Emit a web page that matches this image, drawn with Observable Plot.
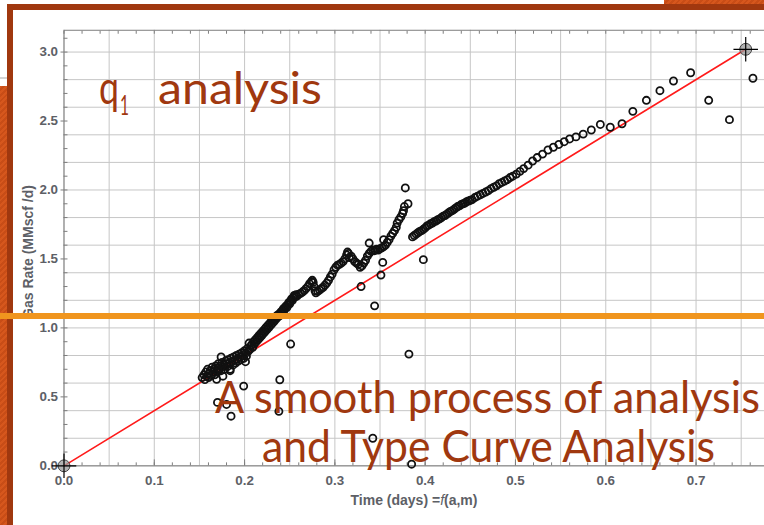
<!DOCTYPE html>
<html>
<head>
<meta charset="utf-8">
<script src="https://cdn.jsdelivr.net/npm/d3@7"></script>
<script src="https://cdn.jsdelivr.net/npm/@observablehq/plot@0.6"></script>
<style>
  html, body { margin: 0; padding: 0; background: #fff; }
  #slide { position: relative; width: 764px; height: 525px; overflow: hidden; background: #fff; }
  #chart { position: absolute; left: 0; top: 0; }
  .abs { position: absolute; }
  .hatch { background: repeating-linear-gradient(135deg, #d6571d 0 2px, #c84d17 2px 4px); }
  .brown { background: #a0380f; }
  .axis-label { font-family: "Liberation Sans", Arial, sans-serif; font-weight: bold; font-size: 14px; color: #5d6066; white-space: nowrap; }
</style>
</head>
<body>
<div id="slide">
  <div id="chart"></div>
  <div class="abs" style="left:0;top:77px;width:7px;height:2px;background:#d4d4d4"></div>
  <div class="abs hatch" style="left:0;top:86px;width:7px;height:439px"></div>
  <div class="abs hatch" style="left:664px;top:0;width:100px;height:4px"></div>
  <div class="abs brown" style="left:7px;top:4px;width:6px;height:521px"></div>
  <div class="abs brown" style="left:7px;top:4px;width:757px;height:6px"></div>
  <div class="abs axis-label" id="ylab" style="left:28px;top:252px;transform:translate(-50%,-50%) rotate(-90deg)">Gas Rate (MMscf /d)</div>
  <div class="abs axis-label" id="xlab" style="left:414px;top:500px;transform:translate(-50%,-50%)">Time (days) =<i style="font-weight:normal">f</i>(a,m)</div>
  <svg class="abs" id="headline" width="764" height="525" style="left:0;top:0" font-family="Lato, 'Open Sans', sans-serif" fill="#a0380f">
    <text x="99" y="104" font-size="46" textLength="20" lengthAdjust="spacingAndGlyphs">q</text>
    <text x="120" y="115" font-size="26" textLength="9" lengthAdjust="spacingAndGlyphs">1</text>
    <text x="158" y="104" font-size="45" textLength="164" lengthAdjust="spacingAndGlyphs">analysis</text>
    <text x="215" y="413" font-size="45" textLength="545" lengthAdjust="spacingAndGlyphs">A smooth process of analysis</text>
    <text x="262" y="462" font-size="45" textLength="453" lengthAdjust="spacingAndGlyphs">and Type Curve Analysis</text>
  </svg>
  <div class="abs" style="left:0;top:313px;width:764px;height:6px;background:#f0951e"></div>
</div>
<script>
// Measured gas rate (MMscf/d) against time function f(a,m) (days)
const timeDays = [
  // early dense branch
  0.153,0.155,0.156,0.157,0.158,0.159,0.160,0.161,0.162,0.163,0.164,0.165,0.166,0.167,0.168,0.169,
  0.170,0.171,0.172,0.173,0.174,0.175,0.176,0.177,0.178,0.179,0.180,0.181,0.182,0.183,0.184,0.185,
  0.186,0.187,0.188,0.189,0.190,0.191,0.192,0.193,0.194,0.195,0.196,0.197,0.198,0.199,0.200,0.201,
  0.202,0.203,0.204,0.205,0.206,0.207,0.208,0.209,0.210,0.211,0.212,0.213,0.214,0.215,0.216,0.217,
  0.218,0.219,0.220,0.221,0.222,0.223,0.224,0.225,0.226,0.227,0.228,0.229,0.230,0.231,0.232,0.233,
  0.234,0.235,0.236,0.237,0.238,0.239,0.240,0.241,0.242,0.243,0.244,0.245,0.246,0.247,0.248,0.249,
  0.250,0.251,0.252,0.253,0.254,0.255,0.256,0.257,0.258,0.260,0.262,0.264,0.266,0.268,0.270,0.272,
  0.274,0.275,0.276,0.277,0.278,0.279,0.281,0.283,0.285,0.287,0.289,0.291,0.293,0.295,0.297,0.299,
  0.301,0.303,0.305,0.307,0.309,0.311,0.313,0.314,0.315,0.316,0.318,0.320,0.322,0.324,0.326,0.328,
  0.330,0.332,0.334,0.336,0.338,0.340,0.342,0.344,0.346,0.348,0.350,0.352,0.354,0.356,0.358,0.360,
  0.362,0.364,0.366,0.368,0.369,0.371,0.373,0.375,0.376,0.377,0.381,0.378,
  // later branch
  0.386,0.388,0.390,0.392,0.394,0.396,0.398,0.400,0.402,0.404,0.406,0.408,0.410,0.412,0.414,0.416,
  0.418,0.420,0.422,0.424,0.426,0.428,0.430,0.432,0.434,0.436,0.438,0.440,0.442,0.444,0.446,0.448,
  0.450,0.452,0.455,0.458,0.461,0.464,0.467,0.470,0.473,0.476,0.479,0.482,0.485,0.488,0.491,0.494,
  0.497,0.501,0.505,0.509,0.514,0.519,0.524,0.530,0.536,0.542,0.548,0.554,0.560,0.567,0.575,0.584,
  0.594,0.605,0.618,0.630,0.645,0.660,0.675,0.694,0.714,0.737,0.763,
  // scattered readings
  0.174,0.201,0.251,0.239,0.199,0.170,0.180,0.185,0.238,0.342,0.385,0.382,0.329,0.351,0.353,0.344,
  0.338,0.354,0.398,0.169,0.176,0.184
];
const gasRate = [
  0.640,0.660,0.625,0.680,0.650,0.700,0.640,0.670,0.690,0.655,0.715,0.680,0.700,0.660,0.725,0.690,
  0.710,0.740,0.700,0.725,0.690,0.750,0.720,0.735,0.700,0.760,0.740,0.720,0.770,0.745,0.700,0.780,
  0.755,0.730,0.790,0.765,0.745,0.800,0.775,0.760,0.810,0.790,0.770,0.820,0.800,0.780,0.835,0.815,
  0.795,0.850,0.830,0.890,0.845,0.870,0.880,0.860,0.900,0.885,0.915,0.900,0.930,0.915,0.945,0.930,
  0.960,0.945,0.975,0.960,0.990,0.975,1.005,0.990,1.020,1.005,1.035,1.020,1.050,1.035,1.060,1.050,
  1.075,1.065,1.090,1.080,1.100,1.090,1.115,1.105,1.125,1.140,1.130,1.150,1.160,1.150,1.170,1.185,
  1.175,1.195,1.210,1.200,1.220,1.235,1.225,1.240,1.230,1.245,1.250,1.260,1.270,1.285,1.300,1.320,
  1.335,1.345,1.330,1.300,1.270,1.255,1.265,1.275,1.285,1.295,1.310,1.325,1.345,1.370,1.390,1.420,
  1.440,1.455,1.460,1.470,1.480,1.500,1.530,1.550,1.540,1.510,1.520,1.500,1.480,1.470,1.460,1.440,
  1.450,1.470,1.490,1.520,1.540,1.555,1.565,1.560,1.570,1.565,1.575,1.580,1.590,1.600,1.620,1.640,
  1.665,1.685,1.705,1.730,1.760,1.785,1.805,1.830,1.850,1.880,1.900,2.015,
  1.660,1.670,1.680,1.690,1.700,1.705,1.715,1.725,1.740,1.745,1.755,1.760,1.770,1.775,1.785,1.790,
  1.800,1.810,1.815,1.825,1.835,1.845,1.850,1.860,1.870,1.880,1.885,1.895,1.900,1.905,1.915,1.920,
  1.925,1.930,1.945,1.955,1.965,1.975,1.985,1.995,2.010,2.020,2.030,2.045,2.055,2.065,2.075,2.090,
  2.100,2.115,2.135,2.155,2.180,2.210,2.235,2.260,2.290,2.310,2.330,2.350,2.370,2.385,2.405,2.435,
  2.475,2.455,2.480,2.570,2.650,2.720,2.790,2.850,2.650,2.510,2.810,
  0.790,0.755,0.883,0.624,0.578,0.460,0.445,0.360,0.395,0.200,0.012,0.810,1.300,1.383,1.475,1.160,
  1.615,1.640,1.495,0.628,0.650,0.690
];

// Straight-line q1 fit through the origin and its two anchor points
const fitTime = [0, 0.755];
const fitRate = [0, 3.02];

const xLabelTicks = [0, 0.1, 0.2, 0.3, 0.4, 0.5, 0.6, 0.7];
const xMinorTicks = d3.range(0, 78).map(i => i / 50).filter(v => v <= 0.776);
const xGridLines = d3.range(0, 16).map(i => i * 0.05);
const yLabelTicks = [0, 0.5, 1.0, 1.5, 2.0, 2.5, 3.0];
const yMinorTicks = d3.range(0, 32).map(i => i / 10);
const yGridLines = d3.range(0, 16).map(i => i * 0.2);

const points = timeDays.map((t, i) => ({t, q: gasRate[i]}));
const fit = fitTime.map((t, i) => ({t, q: fitRate[i]}));

const tickFont = {fontSize: 13.5, fontWeight: "bold", fontFamily: "'Liberation Sans', Arial, sans-serif"};

const chart = Plot.plot({
  width: 770,
  height: 525,
  marginLeft: 64,
  marginRight: 0,
  marginTop: 30,
  marginBottom: 56,
  style: {color: "#5d6066", background: "transparent"},
  x: {domain: [0, 0.7758]},
  y: {domain: [0, 3.158]},
  marks: [
    Plot.gridX(xGridLines, {stroke: "#c6c6c6", strokeOpacity: 1}),
    Plot.gridY(yGridLines, {stroke: "#c6c6c6", strokeOpacity: 1}),
    Plot.frame({stroke: "#7d7d7d"}),
    Plot.axisY({ticks: yLabelTicks, tickSize: 3, tickPadding: 3, tickFormat: d3.format(".1f"), label: null, stroke: "#7d7d7d", ...tickFont}),
    Plot.axisY({ticks: yMinorTicks, tickSize: -4, tickFormat: () => "", label: null, stroke: "#7d7d7d"}),
    Plot.axisX({ticks: xLabelTicks, tickSize: -6, tickPadding: 16, tickFormat: d3.format(".1f"), label: null, stroke: "#7d7d7d", ...tickFont}),
    Plot.axisX({ticks: xMinorTicks, tickSize: -3, tickFormat: () => "", label: null, stroke: "#7d7d7d"}),
    Plot.axisX({anchor: "top", ticks: xMinorTicks, tickSize: -3, tickFormat: () => "", label: null, stroke: "#7d7d7d"}),
    Plot.line(fit, {x: "t", y: "q", stroke: "#ff1a1a", strokeWidth: 1.6}),
    Plot.dot(points, {x: "t", y: "q", r: 3.6, stroke: "#111", strokeWidth: 1.8, fill: "none"}),
    Plot.dot(fit, {x: "t", y: "q", r: 6, fill: "#9a9a9a", fillOpacity: 0.75, stroke: "#444", strokeWidth: 1}),
    Plot.dot(fit, {x: "t", y: "q", r: 8, symbol: "plus", stroke: "#000", strokeWidth: 1.2})
  ]
});
document.getElementById("chart").appendChild(chart);
</script>
</body>
</html>
